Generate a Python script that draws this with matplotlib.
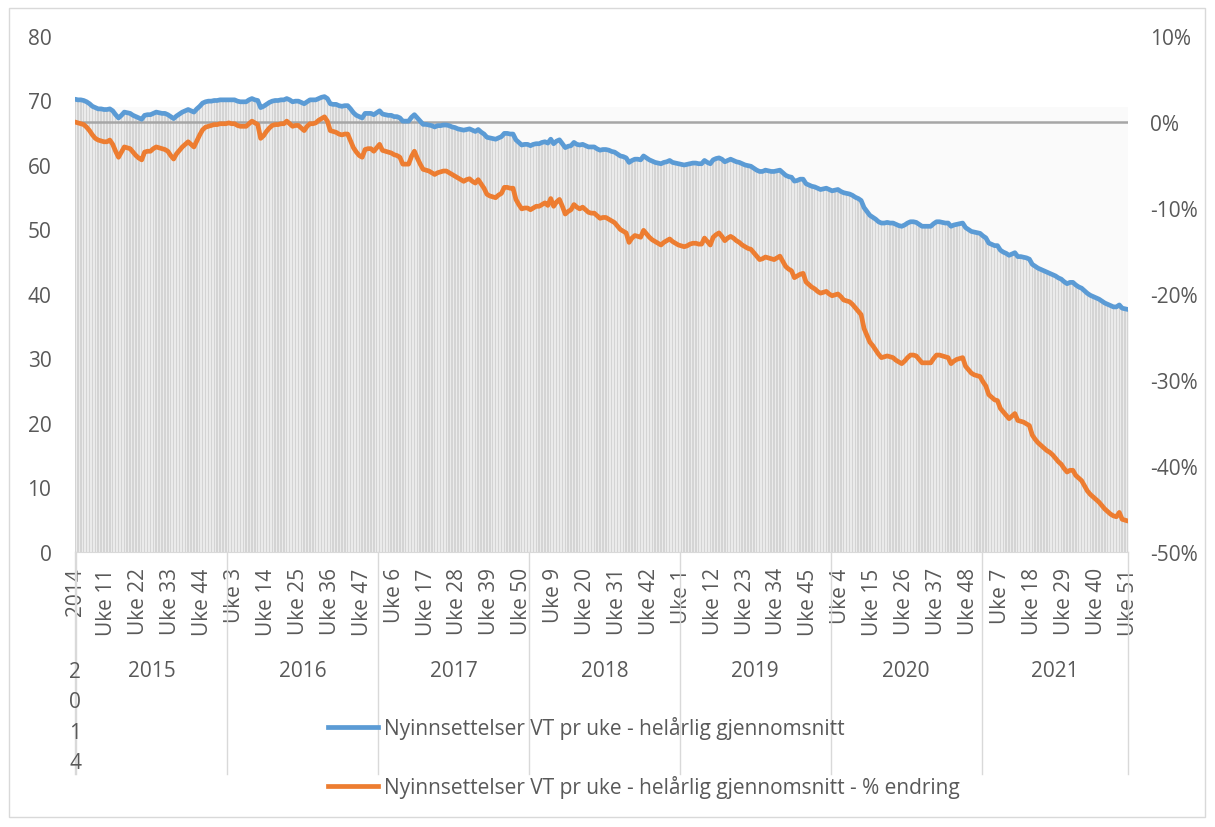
import matplotlib
matplotlib.use("Agg")
import matplotlib.pyplot as plt
import matplotlib.transforms as mtransforms
from matplotlib.lines import Line2D
from matplotlib.patches import Rectangle
from matplotlib.ticker import FuncFormatter

plt.rcParams["font.family"] = ["Open Sans", "DejaVu Sans"]
plt.rcParams["axes.unicode_minus"] = False

TXT = "#595959"
BLUE = "#5b9bd5"
ORANGE = "#ed7d31"
FS = 15

# kategorier: 2014 er ett punkt, deretter uke 1.. for hvert år
years = [2014, 2015, 2016, 2017, 2018, 2019, 2020, 2021]
weeks_per_year = [1, 52, 52, 52, 52, 52, 52, 51]

# Nyinnsettelser VT pr uke - helårlig gjennomsnitt (en linje pr år)
snitt = [
    70.2,
    70.1, 70.1, 70.0, 69.8, 69.5, 69.1, 68.9, 68.7, 68.7, 68.6, 68.6, 68.7, 68.4,
    67.8, 67.3, 67.7, 68.2, 68.1, 68.0, 67.7, 67.5, 67.3, 67.1, 67.7, 67.8, 67.8,
    68.0, 68.2, 68.1, 68.0, 68.0, 67.8, 67.5, 67.2, 67.6, 67.9, 68.2, 68.4, 68.6,
    68.4, 68.2, 68.7, 69.1, 69.6, 69.8, 69.9, 69.9, 70.0, 70.0, 70.1, 70.1, 70.1,
    70.1, 70.1, 70.1, 69.9, 69.8, 69.8, 69.8, 70.1, 70.3, 70.1, 70.0, 68.9, 69.1,
    69.4, 69.7, 69.9, 70.0, 70.0, 70.1, 70.1, 70.3, 70.1, 69.8, 69.9, 69.9, 69.7,
    69.5, 69.8, 70.1, 70.1, 70.1, 70.3, 70.5, 70.6, 70.3, 69.5, 69.4, 69.4, 69.2,
    69.1, 69.2, 69.2, 68.7, 68.1, 67.7, 67.5, 67.3, 68.0, 68.0, 68.0, 67.8, 68.1,
    68.4, 67.9, 67.8, 67.7, 67.7, 67.5, 67.5, 67.3, 66.8, 66.8, 66.8, 67.4, 67.8,
    67.3, 66.8, 66.3, 66.3, 66.2, 66.1, 65.9, 66.1, 66.1, 66.2, 66.2, 66.1, 65.9,
    65.8, 65.6, 65.5, 65.4, 65.5, 65.6, 65.4, 65.2, 65.5, 65.1, 64.8, 64.3, 64.2,
    64.1, 64.0, 64.2, 64.4, 64.9, 64.9, 64.8, 64.8, 63.9, 63.5, 63.1, 63.2, 63.2,
    63.0, 63.2, 63.3, 63.3, 63.5, 63.6, 63.4, 64.0, 63.3, 63.7, 63.9, 63.3, 62.7,
    62.9, 63.0, 63.5, 63.2, 63.1, 63.2, 63.0, 62.8, 62.8, 62.8, 62.5, 62.3, 62.4,
    62.4, 62.3, 62.1, 62.0, 61.7, 61.4, 61.3, 61.1, 60.4, 60.7, 60.9, 60.9, 60.8,
    61.4, 61.1, 60.8, 60.6, 60.4, 60.3, 60.2, 60.4, 60.5, 60.7, 60.4, 60.3, 60.2,
    60.1, 60.0, 60.1, 60.2, 60.3, 60.3, 60.2, 60.2, 60.7, 60.4, 60.2, 60.8, 61.0,
    61.1, 60.9, 60.5, 60.7, 60.9, 60.7, 60.5, 60.4, 60.2, 60.0, 59.9, 59.8, 59.5,
    59.2, 59.0, 59.0, 59.2, 59.1, 59.0, 59.0, 59.1, 59.2, 58.8, 58.4, 58.2, 58.1,
    57.5, 57.6, 57.8, 57.8, 57.1, 56.9, 56.7, 56.6, 56.4, 56.2, 56.3, 56.4, 56.2,
    56.0, 56.1, 56.2, 55.9, 55.7, 55.6, 55.5, 55.3, 55.0, 54.8, 54.5, 53.4, 52.8,
    52.2, 51.9, 51.6, 51.2, 51.0, 51.0, 51.1, 51.0, 51.0, 50.8, 50.6, 50.5, 50.7,
    51.0, 51.2, 51.2, 51.1, 50.8, 50.5, 50.5, 50.5, 50.5, 50.9, 51.2, 51.2, 51.1,
    51.0, 51.0, 50.5, 50.7, 50.8, 50.9, 51.0, 50.3, 50.0, 49.7, 49.6, 49.5, 49.4,
    49.0, 48.7, 47.9, 47.7, 47.5, 47.5, 46.8, 46.5, 46.3, 46.0, 46.2, 46.4, 45.8,
    45.8, 45.7, 45.6, 45.4, 44.6, 44.3, 44.0, 43.8, 43.6, 43.4, 43.2, 43.0, 42.8,
    42.5, 42.3, 41.9, 41.6, 41.8, 41.8, 41.4, 41.1, 40.9, 40.5, 40.1, 39.8, 39.6,
    39.4, 39.2, 38.9, 38.6, 38.4, 38.2, 38.0, 38.0, 38.3, 37.8, 37.7, 37.6,
]

# % endring (i prosent)
endring = [
    0.0,
    -0.1, -0.2, -0.3, -0.6, -1.0, -1.5, -1.9, -2.1, -2.2, -2.3, -2.3, -2.1, -2.6,
    -3.4, -4.1, -3.5, -2.9, -3.0, -3.1, -3.5, -3.9, -4.2, -4.4, -3.5, -3.4, -3.4,
    -3.1, -2.9, -3.0, -3.1, -3.2, -3.4, -3.9, -4.3, -3.7, -3.3, -2.9, -2.6, -2.3,
    -2.6, -2.9, -2.2, -1.5, -0.9, -0.6, -0.5, -0.4, -0.3, -0.3, -0.2, -0.2, -0.2,
    -0.1, -0.2, -0.2, -0.4, -0.5, -0.5, -0.5, -0.2, 0.1, -0.1, -0.3, -1.9, -1.6,
    -1.1, -0.7, -0.4, -0.3, -0.3, -0.2, -0.2, 0.1, -0.2, -0.5, -0.4, -0.4, -0.7,
    -1.0, -0.5, -0.2, -0.2, -0.1, 0.2, 0.4, 0.6, 0.1, -1.0, -1.1, -1.2, -1.4,
    -1.5, -1.4, -1.4, -2.2, -3.0, -3.5, -3.9, -4.1, -3.2, -3.1, -3.1, -3.4, -3.0,
    -2.6, -3.3, -3.4, -3.5, -3.6, -3.8, -3.9, -4.1, -4.9, -4.9, -4.9, -4.0, -3.4,
    -4.2, -4.9, -5.5, -5.6, -5.7, -5.9, -6.1, -5.9, -5.8, -5.7, -5.7, -5.9, -6.1,
    -6.3, -6.5, -6.7, -6.9, -6.7, -6.6, -6.9, -7.1, -6.7, -7.2, -7.7, -8.4, -8.6,
    -8.7, -8.8, -8.5, -8.3, -7.6, -7.6, -7.7, -7.7, -9.0, -9.6, -10.1, -10.0, -10.0,
    -10.2, -10.0, -9.8, -9.8, -9.6, -9.4, -9.7, -8.9, -9.8, -9.3, -9.0, -9.8, -10.7,
    -10.4, -10.2, -9.6, -9.9, -10.1, -9.9, -10.2, -10.5, -10.6, -10.6, -10.9, -11.2, -11.1,
    -11.1, -11.3, -11.5, -11.7, -12.1, -12.5, -12.7, -12.9, -14.0, -13.5, -13.2, -13.3, -13.4,
    -12.6, -13.0, -13.4, -13.7, -13.9, -14.1, -14.3, -14.0, -13.8, -13.6, -13.9, -14.1, -14.3,
    -14.4, -14.5, -14.4, -14.2, -14.1, -14.1, -14.2, -14.2, -13.5, -13.9, -14.3, -13.4, -13.1,
    -12.9, -13.3, -13.8, -13.5, -13.3, -13.5, -13.8, -14.0, -14.3, -14.5, -14.7, -14.8, -15.2,
    -15.6, -16.0, -15.9, -15.7, -15.8, -15.9, -16.0, -15.8, -15.6, -16.2, -16.8, -17.1, -17.3,
    -18.1, -17.9, -17.7, -17.6, -18.6, -18.9, -19.2, -19.4, -19.7, -19.9, -19.8, -19.7, -20.0,
    -20.2, -20.1, -20.0, -20.3, -20.7, -20.8, -20.9, -21.2, -21.6, -22.0, -22.4, -24.0, -24.8,
    -25.6, -26.0, -26.5, -27.0, -27.4, -27.3, -27.2, -27.3, -27.4, -27.7, -27.9, -28.1, -27.8,
    -27.4, -27.1, -27.1, -27.2, -27.6, -28.0, -28.0, -28.0, -28.0, -27.5, -27.1, -27.1, -27.2,
    -27.3, -27.4, -28.1, -27.8, -27.6, -27.5, -27.4, -28.4, -28.8, -29.2, -29.4, -29.5, -29.6,
    -30.2, -30.7, -31.7, -32.0, -32.3, -32.4, -33.3, -33.7, -34.1, -34.5, -34.2, -33.9, -34.7,
    -34.8, -34.9, -35.1, -35.3, -36.4, -36.9, -37.3, -37.6, -37.9, -38.2, -38.4, -38.7, -39.1,
    -39.5, -39.8, -40.3, -40.7, -40.5, -40.5, -41.1, -41.4, -41.7, -42.3, -42.9, -43.3, -43.6,
    -43.9, -44.2, -44.6, -45.0, -45.3, -45.6, -45.8, -45.9, -45.4, -46.2, -46.3, -46.4,
]

LABEL_A = "Nyinnsettelser VT pr uke - helårlig gjennomsnitt"
LABEL_B = "Nyinnsettelser VT pr uke - helårlig gjennomsnitt - % endring"

# kategorietiketter og årsgrenser
cats = []
year_start = []
for y, n in zip(years, weeks_per_year):
    year_start.append(len(cats))
    if n == 1:
        cats.append(str(y))
    else:
        cats += [f"Uke {w}" for w in range(1, n + 1)]
x = list(range(len(cats)))
pct = [v / 100 for v in endring]

fig = plt.figure(figsize=(12.15, 8.28), dpi=100)
W, H = 1215, 828
# ramme rundt hele diagrammet
fig.add_artist(Rectangle((9 / W, 1 - 818 / H), (1205 - 9) / W, (818 - 9) / H,
                         transform=fig.transFigure, fill=False,
                         edgecolor="#d9d9d9", linewidth=1))

ax = fig.add_axes([75 / W, 1 - 553 / H, (1128 - 75) / W, (553 - 37) / H])
ax2 = ax.twinx()

ax.set_xlim(0, len(cats) - 1)
ax.set_ylim(0, 80)
ax2.set_ylim(-0.5, 0.1)

# svak bakgrunn + søyler under blå linje
ax.axhspan(0, 69.0, color="#fafafa", zorder=0, lw=0)
ax.fill_between(x, 0, snitt, color="#ebebeb", lw=0, zorder=1)
ax.bar(x, snitt, width=0.5, color="#d4d4d4", lw=0, zorder=1)

# 0%-linje (sekundær akse)
tr = mtransforms.blended_transform_factory(ax.transAxes, ax2.transData)
ax.plot([0, 1], [0, 0], transform=tr, color="#a6a6a6", lw=1.8, zorder=2)

ax.plot(x, snitt, color=BLUE, lw=3.4, zorder=3, solid_capstyle="round")
ax2.plot(x, pct, color=ORANGE, lw=3.4, zorder=3, solid_capstyle="round")

ax.set_yticks(range(0, 81, 10))
ax2.set_yticks([-0.5, -0.4, -0.3, -0.2, -0.1, 0.0, 0.1])
ax2.yaxis.set_major_formatter(FuncFormatter(lambda v, p: f"{int(round(v * 100))}%"))

ticks = x[::11]
ax.set_xticks(ticks)
ax.set_xticklabels([cats[i] for i in ticks], rotation=90)
ax.tick_params(axis="x", length=0, pad=11, labelsize=FS, colors=TXT)
ax.tick_params(axis="y", length=0, pad=17, labelsize=FS, colors=TXT)
ax2.tick_params(axis="y", length=0, pad=16, labelsize=FS, colors=TXT)

for a in (ax, ax2):
    for s in a.spines.values():
        s.set_visible(False)
ax.spines["bottom"].set_visible(True)
ax.spines["bottom"].set_color("#d9d9d9")

# årsnivå på kategoriaksen
xt = ax.get_xaxis_transform()
PH = 553 - 37
y_bottom = (553 - 775) / PH
y_group = (553 - 672) / PH
bounds = [b - 0.5 for b in year_start[1:]] + [len(cats) - 1]
ax.plot([0, 0], [0, y_bottom], transform=xt, color="#d9d9d9", lw=1, clip_on=False)
for b in bounds:
    ax.plot([b, b], [0, y_bottom], transform=xt, color="#d9d9d9", lw=1, clip_on=False)
lefts = [0] + bounds[:-1]
for y, lo, hi in zip(years, lefts, bounds):
    if y == years[0]:
        # for smal gruppe: Excel stabler sifrene loddrett
        ax.text(0, (553 - 718) / PH, "\n".join(str(y)), transform=xt,
                ha="center", va="center", fontsize=FS, color=TXT, linespacing=1.6)
    else:
        ax.text((lo + hi) / 2, y_group, str(y), transform=xt, ha="center", va="center",
                fontsize=FS, color=TXT)

handles = [Line2D([], [], color=BLUE, lw=3.4), Line2D([], [], color=ORANGE, lw=3.4)]
fig.legend(handles, [LABEL_A, LABEL_B], loc="upper left",
           bbox_to_anchor=(328 / W, 1 - 717 / H), frameon=False, fontsize=FS,
           labelcolor=TXT, handlelength=2.4, handletextpad=0.3, labelspacing=1.75,
           borderpad=0, borderaxespad=0)

fig.savefig("out.png", dpi=100)
